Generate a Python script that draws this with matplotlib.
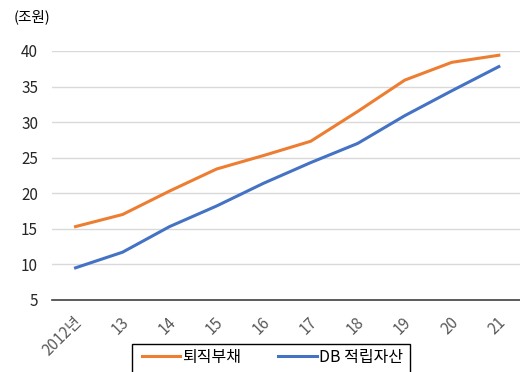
import matplotlib
matplotlib.use('Agg')
import matplotlib.pyplot as plt
import matplotlib.transforms as mtransforms
from matplotlib.patches import Rectangle

plt.rcParams['font.family'] = ['Noto Sans CJK KR', 'DejaVu Sans']

years = ['2012년', '13', '14', '15', '16', '17', '18', '19', '20', '21']
retire_liab = [15.3, 17.0, 20.3, 23.4, 25.3, 27.3, 31.5, 35.9, 38.4, 39.4]
db_assets = [9.5, 11.7, 15.3, 18.2, 21.4, 24.3, 27.0, 30.9, 34.4, 37.8]

color_orange = '#ED7D31'
color_blue = '#4472C4'

fig = plt.figure(figsize=(5.2, 3.72), dpi=100)
ax = fig.add_axes([0.1, 0.194, 0.9, 0.669])

x = list(range(len(years)))
ax.plot(x, retire_liab, color=color_orange, linewidth=2.2, label='퇴직부채')
ax.plot(x, db_assets, color=color_blue, linewidth=2.2, label='DB 적립자산')

ax.set_ylim(5, 40)
ax.set_yticks([5, 10, 15, 20, 25, 30, 35, 40])
ax.set_xlim(-0.5, 9.45)
ax.set_xticks(x)
ax.set_xticklabels(years, rotation=45, ha='right', rotation_mode='anchor',
                   fontsize=11, color='#595959')
ax.tick_params(axis='y', labelsize=11, length=0, pad=10, labelcolor='#262626')
ax.tick_params(axis='x', length=0, pad=10)

offset = mtransforms.ScaledTranslation(-2 / 100, 0, fig.dpi_scale_trans)
for lbl in ax.get_xticklabels():
    lbl.set_transform(lbl.get_transform() + offset)

ax.grid(True, axis='y', color='#d9d9d9', linewidth=1)
ax.set_axisbelow(True)
for side in ['top', 'right', 'left']:
    ax.spines[side].set_visible(False)
ax.spines['bottom'].set_color('#404040')
ax.spines['bottom'].set_linewidth(1.2)

fig.text(0.027, 0.955, '(조원)', fontsize=10.5, ha='left', va='center')

# legend without its own frame, boxed separately (wider side padding than matplotlib gives)
leg = fig.legend(loc='center', bbox_to_anchor=(0.524, 0.040), ncol=2,
                 fontsize=11.5, frameon=False, handlelength=2.4,
                 handletextpad=0.15, columnspacing=2.3, borderpad=0,
                 borderaxespad=0)
fig.patches.append(Rectangle((0.254, -0.05), 0.535, 0.125, transform=fig.transFigure,
                             fill=False, edgecolor='black', linewidth=1.0))

fig.savefig('out.png', dpi=100)
